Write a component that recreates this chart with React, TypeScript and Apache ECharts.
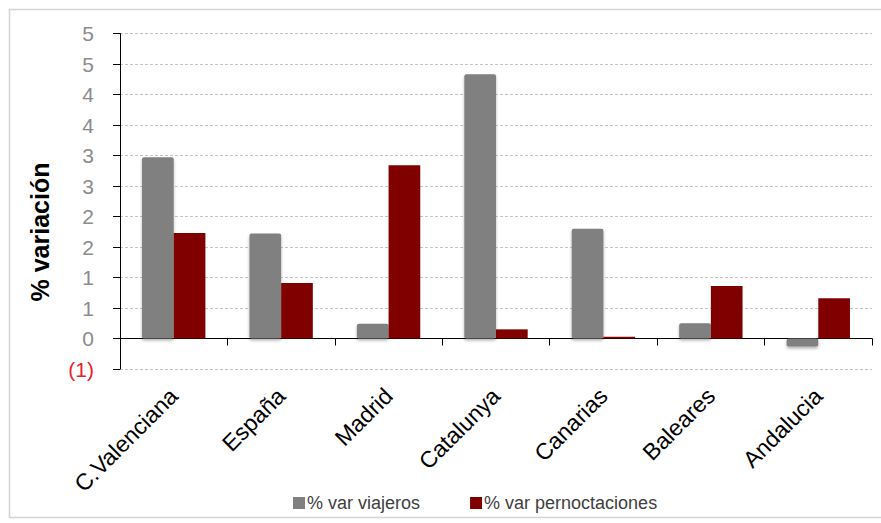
import React, { useEffect, useRef } from "react";
import * as echarts from "echarts";

const categories = ["C.Valenciana", "España", "Madrid", "Catalunya", "Canarias", "Baleares", "Andalucia"];
const viajeros = [2.97, 1.72, 0.24, 4.33, 1.8, 0.25, -0.13];
const pernoctaciones = [1.73, 0.91, 2.84, 0.15, 0.03, 0.86, 0.66];
const seriesNames = ["% var viajeros", "% var pernoctaciones"];
const yAxisTitle = "% variación";

const FONT = "'Liberation Sans', Arial, sans-serif";

function fmtY(v: number): string {
  const r = Math.sign(v) * Math.round(Math.abs(v) + 1e-9);
  if (r < 0) return "{neg|(" + Math.abs(r) + ")}";
  return String(r);
}

export default function App() {
  const ref = useRef<HTMLDivElement>(null);
  useEffect(() => {
    if (!ref.current) return;
    const chart = echarts.init(ref.current, undefined, { renderer: "svg" });
    chart.setOption({
      animation: false,
      backgroundColor: "#ffffff",
      textStyle: { fontFamily: FONT },
      grid: { left: 120, right: 9, top: 33.5, bottom: 154, containLabel: false },
      legend: {
        data: seriesNames,
        left: 288,
        top: 489,
        icon: "rect",
        itemWidth: 12,
        itemHeight: 12,
        itemGap: 50,
        textStyle: { fontSize: 18, color: "#404040", fontFamily: FONT, padding: [0, 0, 0, -3] },
      },
      graphic: [
        {
          type: "rect",
          shape: { x: 9.5, y: 9.5, width: 880, height: 508 },
          style: { fill: "none", stroke: "#d4d4d4", lineWidth: 1.5 },
          silent: true,
          z: -1,
        },
        {
          type: "text",
          x: 40,
          y: 232,
          rotation: Math.PI / 2,
          style: {
            text: yAxisTitle,
            fontSize: 25,
            fontWeight: "bold",
            fontFamily: FONT,
            fill: "#000000",
            align: "center",
            verticalAlign: "middle",
          },
        },
      ],
      xAxis: [
        {
          type: "category",
          data: categories,
          position: "top",
          axisLine: { show: true, onZero: true, lineStyle: { color: "#000000", width: 1 } },
          axisTick: { show: true, inside: true, length: 7, alignWithLabel: false, lineStyle: { color: "#000000" } },
          axisLabel: { show: false },
          splitLine: { show: false },
        },
        {
          type: "category",
          data: categories,
          position: "bottom",
          axisLine: { show: false, onZero: false },
          axisTick: { show: false },
          axisLabel: {
            show: true,
            rotate: 45,
            margin: 23,
            fontSize: 23,
            color: "#000000",
            fontFamily: FONT,
            interval: 0,
          },
          splitLine: { show: false },
        },
      ],
      yAxis: {
        type: "value",
        min: -0.5,
        max: 5,
        interval: 0.5,
        axisLine: { show: true, lineStyle: { color: "#000000" } },
        axisTick: { show: true, length: 7, lineStyle: { color: "#000000" } },
        axisLabel: {
          margin: 26,
          fontSize: 21,
          color: "#8c8c8c",
          fontFamily: FONT,
          formatter: fmtY,
          rich: { neg: { color: "#e8232b", fontSize: 21, fontFamily: FONT } },
        },
        splitLine: { show: true, lineStyle: { color: "#c4c4c4", type: [3, 2], width: 1 } },
      },
      series: [
        {
          name: seriesNames[0],
          type: "bar",
          xAxisIndex: 0,
          data: viajeros,
          barGap: "0%",
          barCategoryGap: "41%",
          itemStyle: {
            color: "#808080",
            borderRadius: 2,
            shadowColor: "rgba(0,0,0,0.3)",
            shadowBlur: 3,
            shadowOffsetY: 2,
          },
        },
        {
          name: seriesNames[1],
          type: "bar",
          xAxisIndex: 0,
          data: pernoctaciones,
          barGap: "0%",
          barCategoryGap: "41%",
          itemStyle: { color: "#800000" },
        },
      ],
    });
    return () => chart.dispose();
  }, []);
  return (
    <div
      ref={ref}
      style={{ position: "fixed", left: 0, top: 0, width: 881, height: 523 }}
    />
  );
}
